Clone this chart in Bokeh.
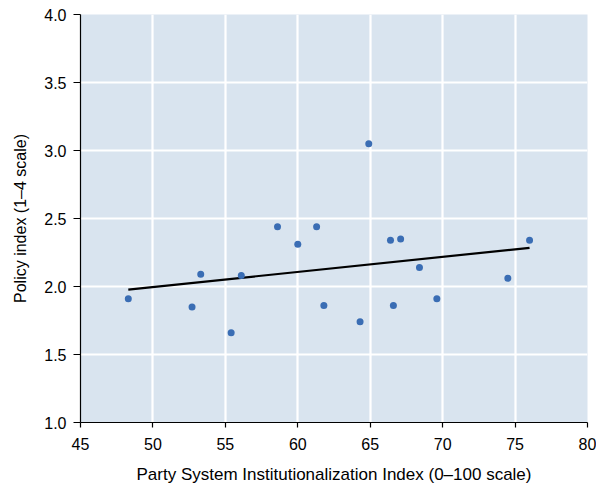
import numpy as np
from bokeh.plotting import figure
from bokeh.models import Range1d, FixedTicker
from bokeh.embed import file_html
from bokeh.resources import INLINE

# Data
psi_index = [48.3, 52.7, 53.3, 55.4, 56.1, 58.6, 60.0, 61.3, 61.8, 64.9,
             64.3, 66.4, 66.6, 67.1, 68.4, 69.6, 74.5, 76.0]
policy_index = [1.91, 1.85, 2.09, 1.66, 2.08, 2.44, 2.31, 2.44, 1.86, 3.05,
                1.74, 2.34, 1.86, 2.35, 2.14, 1.91, 2.06, 2.34]
x_ticks = [45, 50, 55, 60, 65, 70, 75, 80]
y_ticks = [1.0, 1.5, 2.0, 2.5, 3.0, 3.5, 4.0]

FONT = "Liberation Sans"

p = figure(width=596, height=486, output_backend="svg", toolbar_location=None,
           x_range=Range1d(45, 80), y_range=Range1d(1, 4),
           min_border_left=80, min_border_top=14, min_border_right=9,
           min_border_bottom=64)
p.background_fill_color = "#d9e4ef"
p.border_fill_color = "white"
p.outline_line_color = None

p.xgrid.ticker = FixedTicker(ticks=x_ticks)
p.ygrid.ticker = FixedTicker(ticks=y_ticks)
for g in (p.xgrid, p.ygrid):
    g.grid_line_color = "white"
    g.grid_line_width = 2.2

for ax in (p.xaxis, p.yaxis):
    ax.axis_line_color = "black"
    ax.axis_line_width = 1.2
    ax.major_tick_line_color = "black"
    ax.major_tick_line_width = 1.2
    ax.major_tick_in = 0
    ax.minor_tick_line_color = None
    ax.major_label_text_font = FONT
    ax.major_label_text_font_size = "16px"
    ax.major_label_text_color = "black"
    ax.axis_label_text_font = FONT
    ax.axis_label_text_font_style = "normal"
    ax.axis_label_text_color = "black"

p.xaxis.major_tick_out = 5
p.yaxis.major_tick_out = 7
p.xaxis.ticker = FixedTicker(ticks=x_ticks)
p.yaxis.ticker = FixedTicker(ticks=y_ticks)
p.xaxis.major_label_overrides = {t: str(t) for t in x_ticks}
p.yaxis.major_label_overrides = {t: f"{t:.1f}" for t in y_ticks}
p.xaxis.axis_label = "Party System Institutionalization Index (0\u2013100 scale)"
p.yaxis.axis_label = "Policy index (1\u20134 scale)"
p.xaxis.axis_label_text_font_size = "17px"
p.yaxis.axis_label_text_font_size = "16px"
p.xaxis.axis_label_standoff = 12
p.yaxis.axis_label_standoff = 12
p.xaxis.major_label_standoff = 10
p.yaxis.major_label_standoff = 7

# Linear fit
slope, intercept = np.polyfit(psi_index, policy_index, 1)
fx = [min(psi_index), max(psi_index)]
fy = [slope * v + intercept for v in fx]
p.line(fx, fy, line_color="black", line_width=2.2)

p.scatter(psi_index, policy_index, size=7, fill_color="#3a6db4",
          line_color=None)

open("out.html", "w").write(file_html(p, INLINE))
